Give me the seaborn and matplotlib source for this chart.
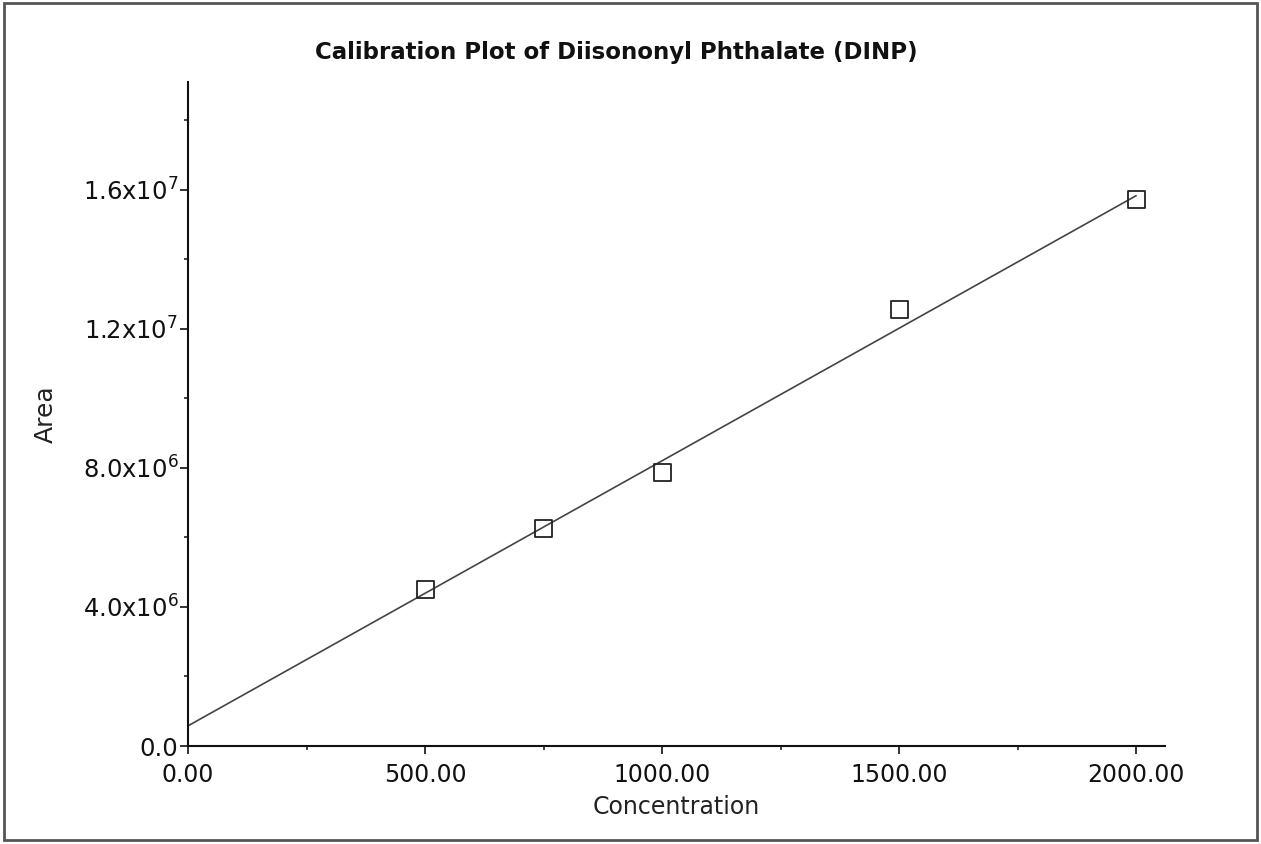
import matplotlib
matplotlib.use("Agg")
import matplotlib.pyplot as plt
from matplotlib.patches import Rectangle
from matplotlib.ticker import MultipleLocator
import seaborn as sns

# --- data ---
concentration = [500, 750, 1000, 1500, 2000]
area = [4.49e6, 6.27e6, 7.86e6, 12.55e6, 15.71e6]

# calibration line end points
fit_x = [0, 2000]
fit_y = [0.58e6, 15.83e6]

x_ticks = [0, 500, 1000, 1500, 2000]
x_labels = ["0.00", "500.00", "1000.00", "1500.00", "2000.00"]
y_ticks = [0, 4e6, 8e6, 1.2e7, 1.6e7]
y_labels = ["0.0", "4.0x10$^{6}$", "8.0x10$^{6}$", "1.2x10$^{7}$", "1.6x10$^{7}$"]

sns.set_style("ticks")
plt.rcParams["font.family"] = ["DejaVu Sans"]
plt.rcParams["mathtext.fontset"] = "dejavusans"

fig = plt.figure(figsize=(12.61, 8.44), dpi=100)
ax = fig.add_axes([0.1491, 0.1161, 0.7748, 0.7867])

sns.lineplot(x=fit_x, y=fit_y, ax=ax, color="#444444", linewidth=1.2)
sns.scatterplot(x=concentration, y=area, ax=ax, marker="s", s=150,
                facecolor="none", edgecolor="#222222", linewidth=1.3, zorder=3)

ax.set_xlim(0, 2061)
ax.set_ylim(0, 1.91e7)
ax.set_xticks(x_ticks)
ax.set_xticklabels(x_labels)
ax.set_yticks(y_ticks)
ax.set_yticklabels(y_labels)
ax.xaxis.set_minor_locator(MultipleLocator(250))
ax.yaxis.set_minor_locator(MultipleLocator(2e6))

ax.tick_params(axis="both", which="major", length=6, width=1.2,
               colors="#111111", direction="out")
ax.tick_params(axis="x", which="major", labelsize=17, pad=6)
ax.tick_params(axis="y", which="major", labelsize=17.5, pad=1)
ax.tick_params(axis="both", which="minor", length=3, width=1.2, direction="out")

for side in ["top", "right"]:
    ax.spines[side].set_visible(False)
for side in ["left", "bottom"]:
    ax.spines[side].set_linewidth(1.5)
    ax.spines[side].set_color("#111111")

ax.set_xlabel("Concentration", fontsize=17, color="#222222", labelpad=6)
ax.set_ylabel("Area", fontsize=18, color="#222222", labelpad=18)
fig.text(0.489, 0.938, "Calibration Plot of Diisononyl Phthalate (DINP)",
         ha="center", va="center", fontsize=16.5, fontweight="bold", color="#111111")

# outer frame
fig.patches.append(Rectangle((0.003, 0.005), 0.994, 0.991, transform=fig.transFigure,
                             fill=False, edgecolor="#555555", linewidth=2))

fig.savefig("out.png", dpi=100)
